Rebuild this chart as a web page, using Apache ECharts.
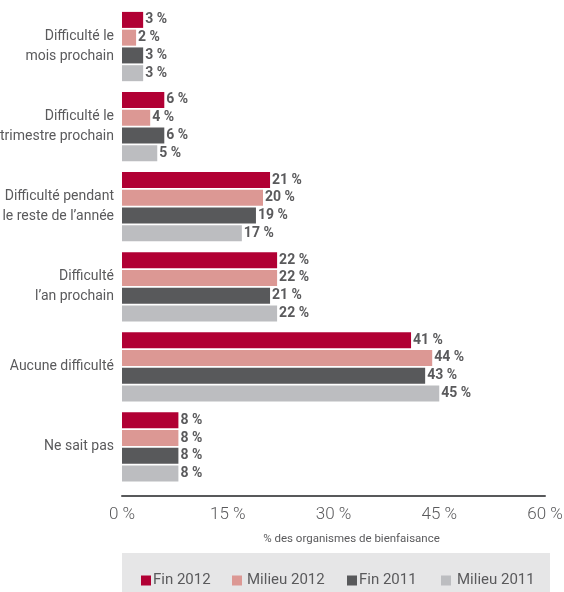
<!DOCTYPE html>
<html>
<head>
<meta charset="utf-8">
<script src="https://cdn.jsdelivr.net/npm/echarts@6/dist/echarts.min.js"></script>
<style>
  html, body { margin: 0; padding: 0; background: #ffffff; }
  #chart { width: 564px; height: 592px; }
</style>
</head>
<body>
<div id="chart"></div>
<script>
// Categories, top to bottom
const categories = [
  'Difficulté le\nmois prochain',
  'Difficulté le\ntrimestre prochain',
  'Difficulté pendant\nle reste de l’année',
  'Difficulté\nl’an prochain',
  'Aucune difficulté',
  'Ne sait pas'
];

// Share of charities (%) per survey wave
const fin2012    = [3, 6, 21, 22, 41, 8];
const milieu2012 = [2, 4, 20, 22, 44, 8];
const fin2011    = [3, 6, 19, 21, 43, 8];
const milieu2011 = [3, 5, 17, 22, 45, 8];

const seriesNames = ['Fin 2012', 'Milieu 2012', 'Fin 2011', 'Milieu 2011'];
const seriesColors = ['#b10034', '#dc9894', '#58595b', '#bcbdc0'];
const xTicks = [0, 15, 30, 45, 60];

const FONT = 'Roboto, "Open Sans", sans-serif';
const TEXT = '#5a5a5c';

const chart = echarts.init(document.getElementById('chart'), null, { renderer: 'canvas' });

const makeSeries = (name, data, color) => ({
  name: name,
  type: 'bar',
  data: data,
  barWidth: 16,
  barGap: '11%',
  itemStyle: { color: color },
  label: {
    show: true,
    position: 'right',
    distance: 2,
    formatter: '{c} %',
    fontFamily: FONT,
    fontWeight: 'bold',
    fontSize: 14,
    color: TEXT
  }
});

// One legend entry per box so each sits at its own spot in the key strip
const legendLefts = [141, 232, 347, 441];
const legendTextPad = [-3, 0, -3, 1];
const legends = seriesNames.map((n, i) => ({
  left: legendLefts[i],
  top: 573,
  padding: 0,
  itemWidth: 10,
  itemHeight: 10,
  itemGap: 0,
  icon: 'rect',
  textStyle: { fontFamily: FONT, fontSize: 15, color: TEXT, padding: [0, 0, 0, legendTextPad[i]] },
  data: [n]
}));

chart.setOption({
  animation: false,
  backgroundColor: '#ffffff',
  graphic: [{
    type: 'rect',
    left: 122, top: 553,
    shape: { width: 428, height: 39 },
    style: { fill: '#e6e6e7' },
    z: -1
  }],
  legend: legends,
  grid: { left: 122, right: 19, top: 6.5, bottom: 105, containLabel: false, outerBoundsMode: 'none' },
  xAxis: {
    type: 'value',
    min: xTicks[0],
    max: xTicks[xTicks.length - 1],
    interval: 15,
    offset: 9,
    name: '% des organismes de bienfaisance',
    nameLocation: 'middle',
    nameGap: 37,
    nameTextStyle: { fontFamily: FONT, fontSize: 11.5, color: TEXT, padding: [0, 0, 0, 36] },
    axisLine: { show: true, lineStyle: { color: '#58595b', width: 2 } },
    axisTick: { show: false },
    splitLine: { show: false },
    axisLabel: {
      formatter: '{value} %',
      margin: 10,
      fontFamily: FONT,
      fontSize: 17,
      fontWeight: 300,
      color: TEXT
    }
  },
  yAxis: {
    type: 'category',
    inverse: true,
    data: categories,
    axisLine: { show: false },
    axisTick: { show: false },
    axisLabel: {
      margin: 8,
      fontFamily: FONT,
      fontSize: 14,
      lineHeight: 20,
      color: TEXT,
      align: 'right'
    }
  },
  series: [
    makeSeries(seriesNames[0], fin2012, seriesColors[0]),
    makeSeries(seriesNames[1], milieu2012, seriesColors[1]),
    makeSeries(seriesNames[2], fin2011, seriesColors[2]),
    makeSeries(seriesNames[3], milieu2011, seriesColors[3])
  ]
});
</script>
</body>
</html>
